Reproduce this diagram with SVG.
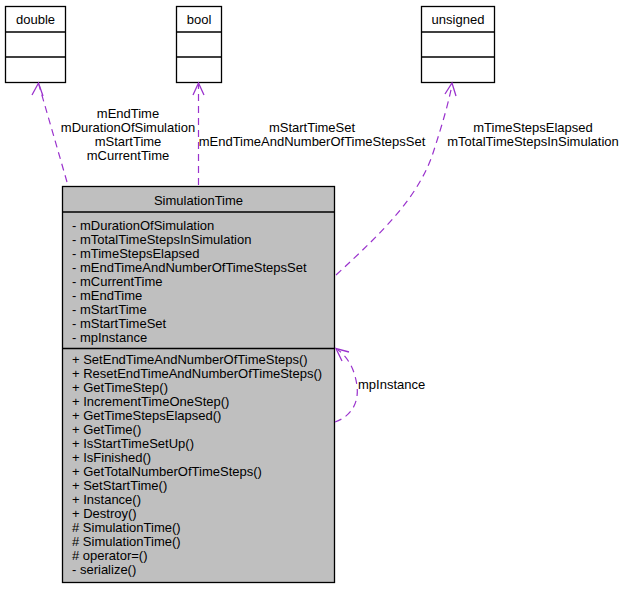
<svg xmlns="http://www.w3.org/2000/svg" width="625" height="589" viewBox="0 0 625 589">
<style>
text{font-family:"Liberation Sans",Arial,Helvetica,sans-serif;font-size:13px;fill:#000}
.c{text-anchor:middle}
.box{fill:#fff;stroke:#000;stroke-width:1.3}
.main{fill:#bfbfbf;stroke:#000;stroke-width:1.3}
.div{stroke:#000;stroke-width:1.3}
.edge{fill:none;stroke:#9a32cd;stroke-width:1.2;stroke-dasharray:7,5}
.head{fill:none;stroke:#9a32cd;stroke-width:1.3}
</style>
<rect width="625" height="589" fill="#fff"/>
<g id="node-double">
<rect class="box" x="5.5" y="6.5" width="60" height="76"/>
<line class="div" x1="5.5" y1="32" x2="65.5" y2="32"/>
<line class="div" x1="5.5" y1="57" x2="65.5" y2="57"/>
<text class="c" x="35.5" y="24">double</text>
</g>
<g id="node-bool">
<rect class="box" x="176.5" y="6.5" width="45" height="76"/>
<line class="div" x1="176.5" y1="32" x2="221.5" y2="32"/>
<line class="div" x1="176.5" y1="57" x2="221.5" y2="57"/>
<text class="c" x="199" y="24">bool</text>
</g>
<g id="node-unsigned">
<rect class="box" x="421.5" y="6.5" width="73" height="76"/>
<line class="div" x1="421.5" y1="32" x2="494.5" y2="32"/>
<line class="div" x1="421.5" y1="57" x2="494.5" y2="57"/>
<text class="c" x="458" y="24">unsigned</text>
</g>
<g id="node-SimulationTime">
<rect class="main" x="62.5" y="186.5" width="272" height="396"/>
<line class="div" x1="62.5" y1="212" x2="334.5" y2="212"/>
<line class="div" x1="62.5" y1="348.5" x2="334.5" y2="348.5"/>
<text class="c" x="198.5" y="205">SimulationTime</text>
<text x="72" y="230">- mDurationOfSimulation</text>
<text x="72" y="244">- mTotalTimeStepsInSimulation</text>
<text x="72" y="258">- mTimeStepsElapsed</text>
<text x="72" y="272">- mEndTimeAndNumberOfTimeStepsSet</text>
<text x="72" y="286">- mCurrentTime</text>
<text x="72" y="300">- mEndTime</text>
<text x="72" y="314">- mStartTime</text>
<text x="72" y="328">- mStartTimeSet</text>
<text x="72" y="342">- mpInstance</text>
<text x="72" y="364">+ SetEndTimeAndNumberOfTimeSteps()</text>
<text x="72" y="378">+ ResetEndTimeAndNumberOfTimeSteps()</text>
<text x="72" y="392">+ GetTimeStep()</text>
<text x="72" y="406">+ IncrementTimeOneStep()</text>
<text x="72" y="420">+ GetTimeStepsElapsed()</text>
<text x="72" y="434">+ GetTime()</text>
<text x="72" y="448">+ IsStartTimeSetUp()</text>
<text x="72" y="462">+ IsFinished()</text>
<text x="72" y="476">+ GetTotalNumberOfTimeSteps()</text>
<text x="72" y="490">+ SetStartTime()</text>
<text x="72" y="504">+ Instance()</text>
<text x="72" y="518">+ Destroy()</text>
<text x="72" y="532"># SimulationTime()</text>
<text x="72" y="546"># SimulationTime()</text>
<text x="72" y="560"># operator=()</text>
<text x="72" y="574">- serialize()</text>
</g>
<g id="connectors">
<path class="edge" d="M67,182 L39,85"/>
<path class="head" d="M32,95 L38.5,83 L43,96"/>
<text class="c" x="128" y="118">mEndTime</text>
<text class="c" x="128" y="132">mDurationOfSimulation</text>
<text class="c" x="128" y="146">mStartTime</text>
<text class="c" x="128" y="160">mCurrentTime</text>
<path class="edge" d="M198.5,185 L198.5,85"/>
<path class="head" d="M193,95 L198.5,83 L204,95"/>
<text class="c" x="312" y="132">mStartTimeSet</text>
<text class="c" x="312" y="146">mEndTimeAndNumberOfTimeStepsSet</text>
<path class="edge" d="M336,275 C385,230 420,195 434,150 C442,125 448,105 452,85"/>
<path class="head" d="M445,94 L452,83 L456,96"/>
<text class="c" x="533" y="132">mTimeStepsElapsed</text>
<text class="c" x="533" y="146">mTotalTimeStepsInSimulation</text>
<path class="edge" d="M335,422 C352,416 359,402 357,386 C355,370 348,357 338,350"/>
<path class="head" d="M342,361 L336,348.5 L349,352"/>
<text x="358" y="389">mpInstance</text>
</g>
</svg>
